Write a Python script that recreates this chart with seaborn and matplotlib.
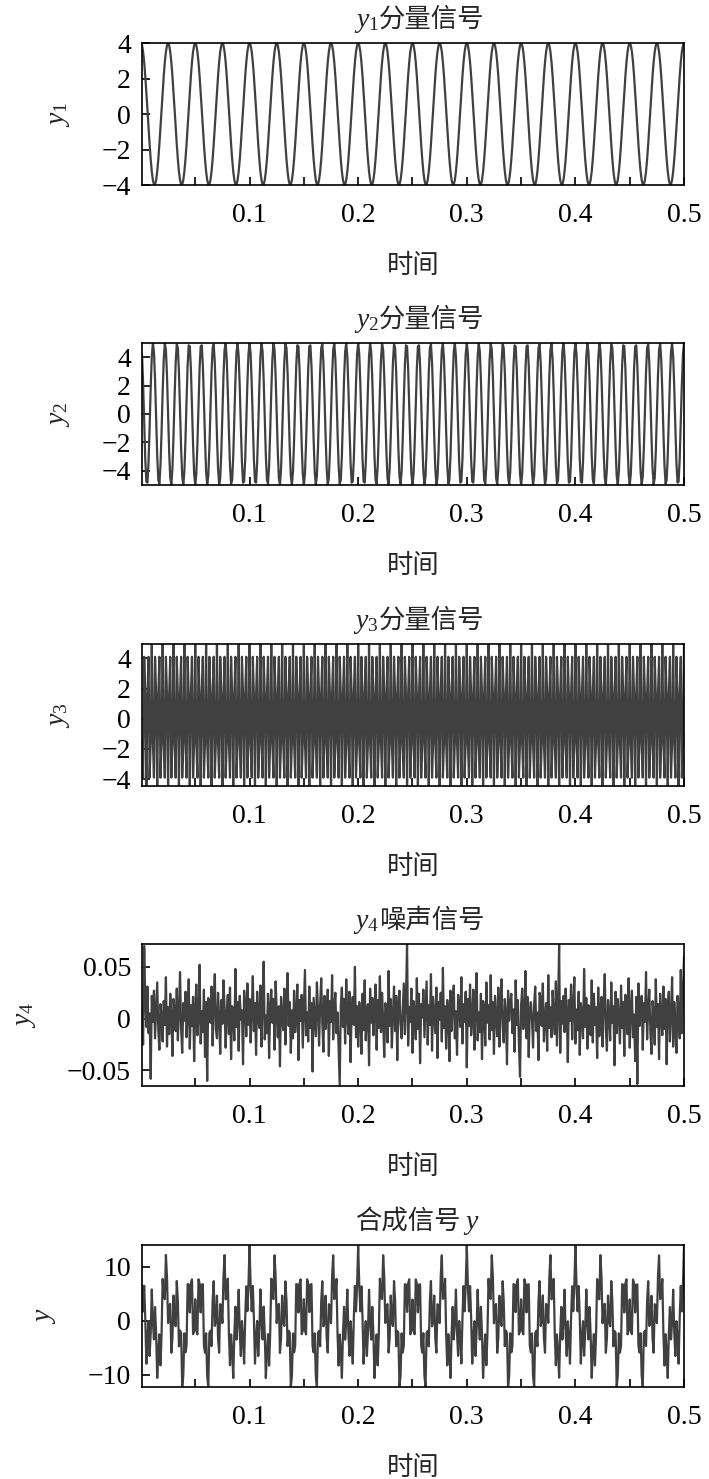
import numpy as np
import pandas as pd
import matplotlib
matplotlib.use("Agg")
import matplotlib.pyplot as plt
import seaborn as sns

# sample rate: 500 samples over 0.5 s
n_samples = 500
fs = 1000

# one repeat of each component
y1_cycle = [4.0, 3.87, 3.51, 2.92, 2.14, 1.24, 0.25, -0.75, -1.70, -2.55,
            -3.24, -3.72, -3.97, -3.97, -3.72, -3.24, -2.55, -1.70, -0.75, 0.25,
            1.24, 2.14, 2.92, 3.51, 3.87]
y2_cycle = [
    5.00, 4.22, 2.13, -0.63, -3.19, -4.76, -4.84, -3.42, -0.94, 1.84,
    4.05, 4.99, 4.38, 2.41, -0.31, -2.94, -4.65, -4.91, -3.64, -1.24,
    1.55, 3.85, 4.96, 4.52, 2.68, 0.00, -2.68, -4.52, -4.96, -3.85,
    -1.55, 1.24, 3.64, 4.91, 4.65, 2.94, 0.31, -2.41, -4.38, -4.99,
    -4.05, -1.84, 0.94, 3.42, 4.84, 4.76, 3.19, 0.63, -2.13, -4.22,
    -5.00, -4.22, -2.13, 0.63, 3.19, 4.76, 4.84, 3.42, 0.94, -1.84,
    -4.05, -4.99, -4.38, -2.41, 0.31, 2.94, 4.65, 4.91, 3.64, 1.24,
    -1.55, -3.85, -4.96, -4.52, -2.68, 0.00, 2.68, 4.52, 4.96, 3.85,
    1.55, -1.24, -3.64, -4.91, -4.65, -2.94, -0.31, 2.41, 4.38, 4.99,
    4.05, 1.84, -0.94, -3.42, -4.84, -4.76, -3.19, -0.63, 2.13, 4.22,
]
y3_cycle = [4.95, -1.5, -3.9, 4.1, 1.55, -4.45, 1.55, 4.1, -3.9, -1.5]

# noise, in thousandths
y4_milli = [
    12, -25, 70, 18, -8, 31, -14, 5, -58, 22, -3, 27, -19, 9, 35, -11, -30, 14, 2, -22,
    17, -6, 40, -27, 11, -15, 24, 3, -36, 19, 8, -12, 29, -21, 6, 45, -9, -33, 15, -2,
    26, -18, 4, 38, -29, 13, -7, 21, -41, 10, 33, -16, 1, 52, -24, 7, -13, 28, -37, 16,
    -60, 20, 9, -4, 31, -26, 14, 43, -10, -19, 25, 2, -34, 18, -5, 37, 11, -28, 6, 23,
    -15, 30, -39, 12, 4, -21, 48, -8, 16, -31, 22, -1, 8, -44, 27, 13, -17, 34, -6, 19,
    -23, 5, 41, -12, 15, -35, 26, 0, -9, 32, -27, 17, 55, -20, 3, -14, 24, -38, 11, 28,
    -4, 19, -30, 36, 7, -18, 12, -46, 21, 2, -11, 29, -25, 14, 44, -7, 16, -33, 8, -19,
    27, -13, 5, 33, -40, 18, -2, 23, -28, 10, 47, -16, 6, -22, 31, -9, 15, -51, 20, 1,
    -17, 35, 9, -26, 14, 39, -5, -32, 22, -10, 4, 28, -36, 17, -3, 42, -20, 11, 25, -14,
    6, -29, -65, 13, 30, -8, 19, -24, 38, 2, -15, 26, -42, 9, 21, -6, 50, -18, 12, -27,
    16, 3, -34, 24, -11, 37, -21, 8, 14, -45, 29, -4, 20, -16, 7, 33, -30, 18, -9, 41,
    -13, 25, -2, -37, 15, 10, -23, 46, -7, 19, -28, 4, 31, -12, 22, -40, 13, 27, -5, -19,
    8, 34, -15, 20, 72, -26, 11, -3, 29, -33, 17, 6, -20, 39, -10, 24, -43, 14, 1, 28,
    -18, 9, 36, -25, 13, -6, 43, -31, 21, 3, -14, 30, -38, 16, -1, 25, -22, 49, -9, 12,
    -29, 18, 5, -41, 27, -12, 15, 32, -19, 7, -35, 23, 10, -8, 40, -24, 14, -3, 26, -47,
    19, -7, 33, -16, 2, 28, -30, 11, 44, -21, 6, -13, 24, -39, 17, 9, -26, 35, -4, 13,
    -20, 42, -11, 16, -34, 22, 1, -17, 30, -27, 12, 38, -8, -23, 19, 5, -44, 27, -2, 15,
    24, -14, 9, -32, 37, -6, 18, -25, -56, 13, 29, -10, 4, 46, -19, 21, -37, 8, 16, -1,
    -28, 14, 31, -12, 6, -40, 25, 19, -7, 34, -22, 3, 15, -31, 42, -9, 11, -18, 27, 4,
    -15, 36, -26, 10, 71, -33, 17, -5, 22, -13, 29, 7, -42, 18, -2, 33, -20, 12, 40, -24,
    9, -11, 26, -35, 15, 3, -19, 48, -8, 20, -29, 13, 1, -16, 37, -23, 24, -6, 11, -38,
    30, -17, 8, 21, -27, 14, 43, -10, -31, 18, 5, -21, 35, -4, 12, -45, 26, -14, 19, 2,
    -24, 32, -9, 16, -36, 23, 7, -15, 39, -28, 10, 27, -18, 4, -41, 21, -63, 34, -7, 13,
    22, -30, 15, -3, 45, -20, 9, 28, -12, -34, 17, 6, -25, 38, -8, 14, -39, 24, 1, -16,
    31, -10, 19, -44, 12, 26, -22, 5, 40, -27, 16, -5, -33, 22, 8, -19, 47, -14, 25, 60,
]

# title pieces: (math part, chinese part, math first?)
titles = [(r"$y_1$", "分量信号", True), (r"$y_2$", "分量信号", True),
          (r"$y_3$", "分量信号", True), (r"$y_4$", "噪声信号", True),
          (r"$y$", "合成信号", False)]
ylabels = [r"$y_1$", r"$y_2$", r"$y_3$", r"$y_4$", r"$y$"]
yticks = [[-4, -2, 0, 2, 4], [-4, -2, 0, 2, 4], [-4, -2, 0, 2, 4],
          [-0.05, 0, 0.05], [-10, 0, 10]]
xticks = [0.1, 0.2, 0.3, 0.4, 0.5]
xticks_minor = [0.05, 0.15, 0.25, 0.35, 0.45]

k = np.arange(1, n_samples + 1)
t = k / fs
y1 = np.array(y1_cycle)[k % len(y1_cycle)]
y2 = np.array(y2_cycle)[k % len(y2_cycle)]
y3 = np.array(y3_cycle)[k % len(y3_cycle)]
y4 = np.array(y4_milli) / 1000.0
y = y1 + y2 + y3 + y4
signals = [y1, y2, y3, y4, y]

sns.set_theme(style="ticks")
plt.rcParams["font.family"] = ["Liberation Serif", "Noto Sans CJK SC"]
plt.rcParams["mathtext.fontset"] = "custom"
plt.rcParams["mathtext.rm"] = "Liberation Serif"
plt.rcParams["mathtext.it"] = "Liberation Serif:italic"
plt.rcParams["axes.unicode_minus"] = True

fig = plt.figure(figsize=(7.09, 14.79), dpi=100)
bottoms = [0.8749, 0.6721, 0.4686, 0.2657, 0.0622]
line_color = "#404040"
cjk = ["Noto Sans CJK SC", "DejaVu Sans"]


def fmt(v):
    s = "%g" % v
    return s.replace("-", "\u2212")


for i, sig in enumerate(signals):
    ax = fig.add_axes([0.2003, bottoms[i], 0.7645, 0.096])
    df = pd.DataFrame({"t": t, "v": sig})
    sns.lineplot(data=df, x="t", y="v", ax=ax, color=line_color,
                 linewidth=1.6, estimator=None)
    ax.set_xlim(t[0], t[-1])
    ax.set_ylim(sig.min(), sig.max())
    ax.set_xticks(xticks)
    ax.set_xticks(xticks_minor, minor=True)
    ax.set_xticklabels([fmt(v) for v in xticks])
    ax.set_yticks(yticks[i])
    ax.set_yticklabels([fmt(v) for v in yticks[i]])
    ax.tick_params(which="both", direction="in", length=6, width=1.2,
                   labelsize=20, colors="black")
    ax.tick_params(axis="x", pad=13)
    ax.tick_params(axis="y", pad=8)
    for sp in ax.spines.values():
        sp.set_linewidth(1.2)
        sp.set_color("black")

    math_part, zh_part, math_first = titles[i]
    if math_first:
        xj = 0.437
        ax.annotate(math_part, xy=(xj, 1), xycoords="axes fraction",
                    xytext=(0, 11.5), textcoords="offset points",
                    ha="right", va="baseline", fontsize=20)
        ax.annotate(zh_part, xy=(xj, 1), xycoords="axes fraction",
                    xytext=(0, 11.5), textcoords="offset points",
                    ha="left", va="baseline", fontsize=19, family=cjk)
    else:
        xj = 0.589
        ax.annotate(zh_part, xy=(xj, 1), xycoords="axes fraction",
                    xytext=(0, 11.5), textcoords="offset points",
                    ha="right", va="baseline", fontsize=19, family=cjk)
        ax.annotate(math_part, xy=(xj, 1), xycoords="axes fraction",
                    xytext=(1, 11.5), textcoords="offset points",
                    ha="left", va="baseline", fontsize=20)

    ax.set_xlabel("时间", fontsize=19, labelpad=17, family=cjk)
    ax.set_ylabel(ylabels[i], fontsize=20, labelpad=21)

fig.savefig("out.png", dpi=100, facecolor="white")
